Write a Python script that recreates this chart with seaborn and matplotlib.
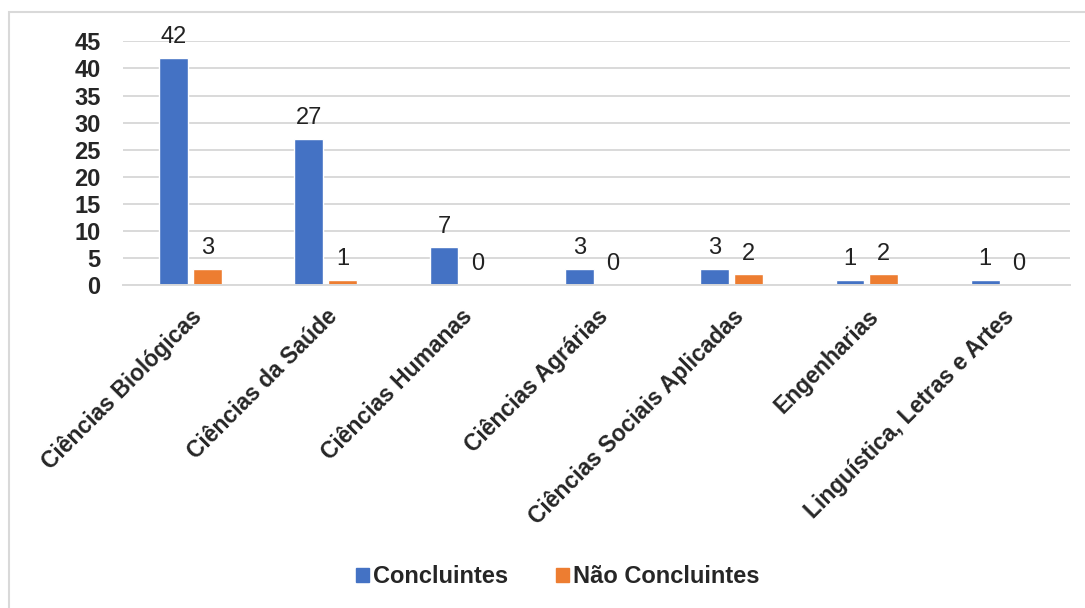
import matplotlib
matplotlib.use("Agg")
import matplotlib.pyplot as plt
import matplotlib.patches as mpatches
import pandas as pd
import seaborn as sns

# data
areas = ["Ciências Biológicas", "Ciências da Saúde", "Ciências Humanas",
         "Ciências Agrárias", "Ciências Sociais Aplicadas", "Engenharias",
         "Linguística, Letras e Artes"]
concluintes = [42, 27, 7, 3, 3, 1, 1]
nao_concluintes = [3, 1, 0, 0, 2, 2, 0]
series = ["Concluintes", "Não Concluintes"]
colors = ["#4472C4", "#ED7D31"]

df = pd.DataFrame({
    "area": areas * 2,
    "valor": concluintes + nao_concluintes,
    "grupo": [series[0]] * len(areas) + [series[1]] * len(areas),
})

sns.set_style("white")
plt.rcParams["font.family"] = ["Liberation Sans", "DejaVu Sans"]

fig = plt.figure(figsize=(10.85, 6.08), dpi=100)
ax = fig.add_axes([0.113, 0.531, 0.873, 0.401])

sns.barplot(data=df, x="area", y="valor", hue="grupo", palette=colors,
            width=0.5, gap=0.15, ax=ax, legend=False, saturation=1)

for cont in ax.containers:
    ax.bar_label(cont, padding=7, fontsize=17, color="#222222")

ax.set_ylim(0, 45)
ax.set_yticks(range(0, 46, 5))
ax.yaxis.grid(True, color="#D9D9D9", linewidth=1.4)
ax.set_axisbelow(True)
for s in ["left", "right", "top"]:
    ax.spines[s].set_visible(False)
ax.spines["bottom"].set_color("#D9D9D9")
ax.spines["bottom"].set_linewidth(1.4)
ax.tick_params(length=0)
ax.set_xlabel("")
ax.set_ylabel("")
plt.setp(ax.get_yticklabels(), fontsize=17, fontweight="bold")
plt.setp(ax.get_xticklabels(), fontsize=16.5, fontweight="bold",
         rotation=45, ha="right", rotation_mode="anchor")
ax.tick_params(axis="x", pad=14)
ax.tick_params(axis="y", pad=16)

handles = [mpatches.Patch(color=c, label=s) for c, s in zip(colors, series)]
fig.legend(handles=handles, loc="center", bbox_to_anchor=(0.514, 0.051),
           ncol=2, frameon=False, handlelength=0.55, handleheight=0.55,
           handletextpad=0.2, columnspacing=2.0,
           prop={"size": 17, "weight": "bold"})

fig.add_artist(mpatches.Rectangle((9 / 1085, -0.1), 1.1, 1 - 12 / 608 + 0.1,
                                  transform=fig.transFigure, fill=False,
                                  edgecolor="#D9D9D9", linewidth=1.5))

fig.savefig("out.png", dpi=100)
